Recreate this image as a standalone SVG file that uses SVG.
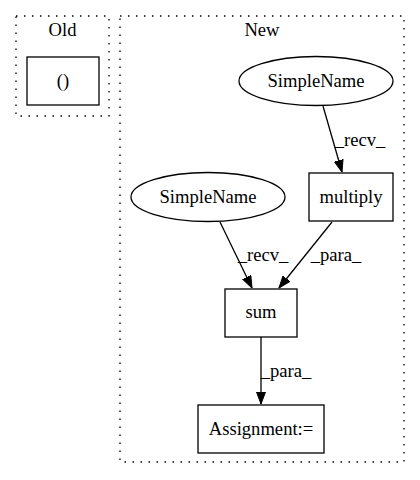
<svg xmlns="http://www.w3.org/2000/svg" width="420" height="480" viewBox="0 0 420 480">
<style>
text{font-family:"Liberation Serif","Times New Roman",serif;font-size:18.6px;fill:#000;text-anchor:middle}
.cl{fill:none;stroke:#000;stroke-width:1.3;stroke-dasharray:1.5,6.5}
.n{fill:#fff;stroke:#000;stroke-width:1.3}
.e{fill:none;stroke:#000;stroke-width:1.3}
</style>
<defs>
<marker id="ah" markerWidth="12" markerHeight="10" refX="12" refY="5" orient="auto" markerUnits="userSpaceOnUse">
<polygon points="0,0.5 12,5 0,9.5" fill="#000" stroke="#000"/>
</marker>
</defs>
<rect width="420" height="480" fill="#fff"/>
<g id="cluster_old">
<rect class="cl" x="16" y="16" width="93" height="100"/>
<text x="62.5" y="36">Old</text>
</g>
<g id="cluster_new">
<rect class="cl" x="120" y="16" width="284" height="446"/>
<text x="262" y="36">New</text>
</g>
<g id="edges">
<path class="e" d="M323,106 L342,172" marker-end="url(#ah)"/>
<text x="360" y="146">_recv_</text>
<path class="e" d="M220,222 L252,288" marker-end="url(#ah)"/>
<text x="263" y="261">_recv_</text>
<path class="e" d="M332,222 L279,288" marker-end="url(#ah)"/>
<text x="336" y="261">_para_</text>
<path class="e" d="M261,337 L261,404" marker-end="url(#ah)"/>
<text x="286" y="377">_para_</text>
</g>
<g id="n_paren">
<rect class="n" x="27" y="57" width="72" height="48"/>
<text x="63" y="87">()</text>
</g>
<g id="n_simplename1">
<ellipse class="n" cx="316" cy="81" rx="77" ry="24.5"/>
<text x="316" y="87">SimpleName</text>
</g>
<g id="n_multiply">
<rect class="n" x="309" y="173" width="84" height="48"/>
<text x="351" y="203">multiply</text>
</g>
<g id="n_simplename2">
<ellipse class="n" cx="208" cy="197" rx="77" ry="24.5"/>
<text x="208" y="203">SimpleName</text>
</g>
<g id="n_sum">
<rect class="n" x="225" y="289" width="72" height="48"/>
<text x="261" y="318">sum</text>
</g>
<g id="n_assignment">
<rect class="n" x="198" y="405" width="126" height="48"/>
<text x="261" y="435">Assignment:=</text>
</g>
</svg>
